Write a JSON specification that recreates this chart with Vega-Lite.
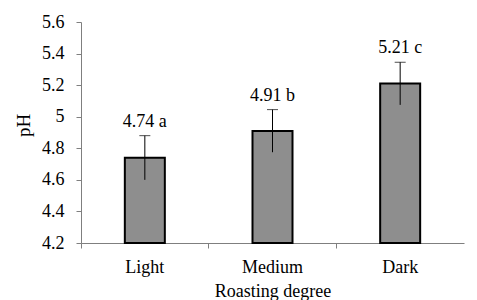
{
  "$schema": "https://vega.github.io/schema/vega-lite/v6.json",
  "width": 383,
  "height": 221,
  "autosize": {"type": "none"},
  "padding": {"left": 81, "top": 22, "right": 13, "bottom": 57},
  "background": "white",
  "config": {
    "view": {"stroke": null},
    "font": "'Liberation Serif', 'Times New Roman', serif",
    "axisY": {
      "values": [4.2, 4.4, 4.6, 4.8, 5, 5.2, 5.4, 5.6],
      "format": "~g",
      "titleFont": "'Liberation Serif', 'Times New Roman', serif",
      "titleFontSize": 19,
      "titleFontWeight": "normal",
      "titleColor": "black",
      "titleAngle": -90,
      "titleX": -58,
      "titleY": 103,
      "titleAlign": "center",
      "titleBaseline": "middle",
      "labelFont": "'Liberation Serif', 'Times New Roman', serif",
      "labelFontSize": 18,
      "labelColor": "black",
      "labelPadding": 12,
      "labelOverlap": false,
      "labelBound": false,
      "labelFlush": false,
      "grid": false,
      "domainColor": "#7f7f7f",
      "tickColor": "#7f7f7f",
      "tickSize": 5
    }
  },
  "data": {
    "values": [
      {"degree": "Light", "pH": 4.74, "err": 0.14, "label": "4.74 a"},
      {"degree": "Medium", "pH": 4.91, "err": 0.135, "label": "4.91 b"},
      {"degree": "Dark", "pH": 5.21, "err": 0.135, "label": "5.21 c"}
    ]
  },
  "transform": [
    {"calculate": "datum.pH + datum.err", "as": "hi"},
    {"calculate": "datum.pH - datum.err", "as": "lo"}
  ],
  "encoding": {
    "x": {
      "field": "degree",
      "type": "nominal",
      "sort": ["Light", "Medium", "Dark"],
      "scale": {"paddingInner": 0, "paddingOuter": 0},
      "axis": {
        "title": "Roasting degree",
        "titleFont": "'Liberation Serif', 'Times New Roman', serif",
        "titleFontSize": 18,
        "titleFontWeight": "normal",
        "titleColor": "black",
        "titlePadding": 6,
        "labelFont": "'Liberation Serif', 'Times New Roman', serif",
        "labelFontSize": 18,
        "labelColor": "black",
        "labelAngle": 0,
        "labelPadding": 10,
        "labelOverlap": false,
        "labelBound": false,
        "labelFlush": false,
        "bandPosition": 0,
        "domainColor": "#7f7f7f",
        "tickColor": "#7f7f7f",
        "tickSize": 5
      }
    }
  },
  "layer": [
    {
      "mark": {"type": "bar", "width": 40, "fill": "#8e8e8e", "stroke": "black", "strokeWidth": 2},
      "encoding": {
        "y": {
          "field": "pH",
          "type": "quantitative",
          "title": "pH",
          "scale": {"domain": [4.2, 5.6], "zero": false, "nice": false}
        },
        "y2": {"datum": 4.2}
      }
    },
    {
      "mark": {"type": "rule", "color": "black", "strokeWidth": 1},
      "encoding": {
        "y": {"field": "lo", "type": "quantitative", "title": "pH"},
        "y2": {"field": "hi"}
      }
    },
    {
      "mark": {"type": "tick", "color": "black", "size": 11, "thickness": 1},
      "encoding": {
        "y": {"field": "hi", "type": "quantitative", "title": "pH"}
      }
    },
    {
      "mark": {"type": "text", "font": "'Liberation Serif', 'Times New Roman', serif", "fontSize": 18, "color": "black", "baseline": "middle", "dy": -14},
      "encoding": {
        "y": {"field": "hi", "type": "quantitative", "title": "pH"},
        "text": {"field": "label"}
      }
    }
  ]
}
